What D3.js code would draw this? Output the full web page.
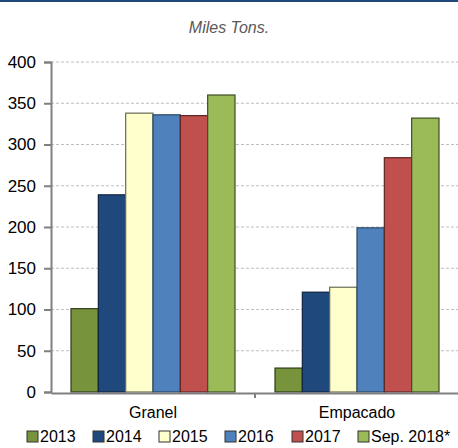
<!DOCTYPE html>
<html lang="es">
<head>
<meta charset="UTF-8">
<script src="https://d3js.org/d3.v7.min.js"></script>
<style>
  body { margin: 0; background: #fff; }
  svg { font-family: "Liberation Sans", Arial, sans-serif; }
</style>
</head>
<body>
<div id="container"></div>
<script>
// datos
var categories = ["Granel", "Empacado"];
var series = ["2013", "2014", "2015", "2016", "2017", "Sep. 2018*"];
var granel = [101, 239, 338, 336, 335, 360];
var empacado = [29, 121, 127, 199, 284, 332];
var yTicks = [0, 50, 100, 150, 200, 250, 300, 350, 400];
var colors = ["#77933C", "#1F497D", "#FFFFCC", "#4F81BD", "#C0504D", "#9BBB59"];
var strokes = ["#2e3a18", "#0f2440", "#6b6b55", "#2c4766", "#5a2523", "#3f4c24"];

var width = 458, height = 448;
var svg = d3.select("#container").append("svg").attr("width", width).attr("height", height);

// linea superior
svg.append("rect").attr("x", 0).attr("y", 0).attr("width", width).attr("height", 2).attr("fill", "#1F497D");

svg.append("text").attr("x", 229).attr("y", 33).attr("text-anchor", "middle")
  .attr("font-size", 16).attr("font-style", "italic").attr("fill", "#595959").text("Miles Tons.");

var x0 = d3.scaleBand().domain(categories).range([51, 459]);
var x1 = d3.scaleBand().domain(series).range([20, x0.bandwidth() - 20]);
var y = d3.scaleLinear().domain([0, 400]).range([392, 62]);

// grid
svg.append("g").selectAll("line").data(yTicks.slice(1)).join("line")
  .attr("x1", 51).attr("x2", width).attr("y1", d => y(d)).attr("y2", d => y(d))
  .attr("stroke", "#BFBFBF").attr("stroke-dasharray", "3,2");

var rows = categories.map((c, i) => ({cat: c, vals: [granel, empacado][i]}));
var groups = svg.append("g").selectAll("g").data(rows).join("g")
  .attr("transform", d => "translate(" + x0(d.cat) + ",0)");
groups.selectAll("rect").data(d => d.vals.map((v, j) => ({s: series[j], v: v, j: j}))).join("rect")
  .attr("x", d => x1(d.s)).attr("width", x1.bandwidth())
  .attr("y", d => y(d.v)).attr("height", d => y(0) - y(d.v))
  .attr("fill", d => colors[d.j]).attr("stroke", d => strokes[d.j]).attr("stroke-width", 1.2);

// eje y
var yaxis = d3.axisLeft(y).tickValues(yTicks).tickSize(7).tickPadding(8);
var gy = svg.append("g").attr("transform", "translate(51,0)").call(yaxis);
gy.select(".domain").attr("stroke", "#808080").attr("stroke-width", 2);
gy.selectAll(".tick line").attr("stroke", "#808080").attr("stroke-width", 2);
gy.selectAll("text").attr("font-size", 17).attr("fill", "#000").attr("font-family", "Liberation Sans, Arial, sans-serif");

// eje x
var xaxis = d3.axisBottom(x0).tickSize(0).tickPadding(14);
var gx = svg.append("g").attr("transform", "translate(0,393)").call(xaxis);
gx.select(".domain").attr("stroke", "#808080").attr("stroke-width", 2);
gx.selectAll("text").attr("font-size", 16).attr("fill", "#000").attr("font-family", "Liberation Sans, Arial, sans-serif");
svg.append("line").attr("x1", x0("Empacado")).attr("x2", x0("Empacado")).attr("y1", 393).attr("y2", 398)
  .attr("stroke", "#808080").attr("stroke-width", 2);

// leyenda
var legX = [27, 93, 159, 225, 292, 358];
var leg = svg.append("g").selectAll("g").data(series).join("g")
  .attr("transform", (d, i) => "translate(" + legX[i] + ",431)");
leg.append("rect").attr("width", 11).attr("height", 11)
  .attr("fill", (d, i) => colors[i]).attr("stroke", "#333").attr("stroke-width", 1);
leg.append("text").attr("x", 13).attr("y", 11).attr("font-size", 16).text(d => d);
</script>
</body>
</html>
